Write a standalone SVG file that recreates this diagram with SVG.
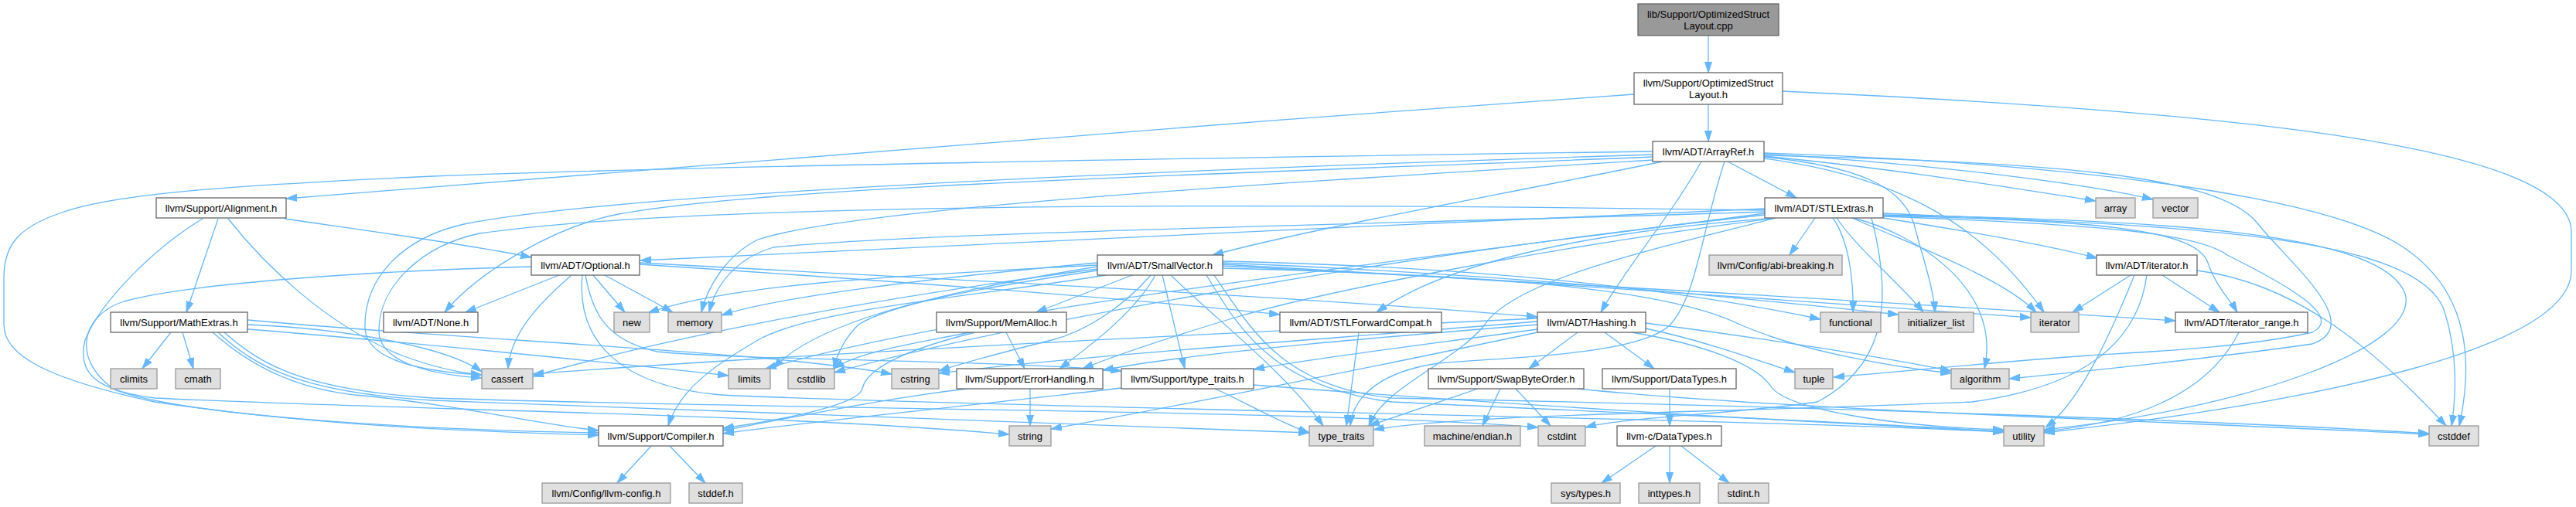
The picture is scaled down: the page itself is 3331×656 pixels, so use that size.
<svg xmlns="http://www.w3.org/2000/svg" width="3331" height="656" viewBox="0 0 3331 656">
<style>
.n rect{fill:#ffffff;stroke:#666666;stroke-width:1.3}
.x rect{fill:#e0e0e0;stroke:#999999;stroke-width:1.3}
.r rect{fill:#999999;stroke:#666666;stroke-width:1.3}
text{font-family:"Liberation Sans",Arial,Helvetica,sans-serif;font-size:13px;text-anchor:middle;fill:#000000}
#edges path{fill:none;stroke:#63b8ff;stroke-width:1.3;marker-end:url(#ah)}
</style>
<defs>
<marker id="ah" viewBox="0 0 14 10" markerWidth="14" markerHeight="10" refX="14" refY="5" orient="auto" markerUnits="userSpaceOnUse"><path d="M0,0.5 L14,5 L0,9.5 z" fill="#63b8ff" stroke="#63b8ff" stroke-width="1"/></marker>
</defs>
<rect x="0" y="0" width="3331" height="656" fill="#ffffff"/>
<g id="edges">
<path d="M2209,46 L2209,94"/>
<path d="M2209,135 L2209,183"/>
<path d="M2113,122 C1500,165 800,220 370,257"/>
<path d="M2305,118 C2900,145 3325,190 3325,300 L3325,350 C3325,450 3000,520 2643,560"/>
<path d="M2234,209 L2323,256"/>
<path d="M2281,202 C2450,218 2600,243 2710,260"/>
<path d="M2281,199 C2500,212 2700,238 2784,258"/>
<path d="M2281,198 C2700,212 3000,255 3100,315 C3190,370 3200,460 3180,551"/>
<path d="M2137,196 C1500,205 900,215 560,228 C300,240 150,250 80,275 C20,295 5,320 5,360 L5,420 C5,460 60,490 200,520 C400,550 600,558 774,563"/>
<path d="M2150,209 C1900,260 1700,295 1568,330"/>
<path d="M2200,209 C2160,280 2100,350 2070,404"/>
<path d="M2137,203 C1600,225 1000,240 800,277 C720,292 620,350 575,404"/>
<path d="M2137,200 C1500,220 800,250 600,290 C520,308 470,360 472,425 C474,462 530,480 623,485"/>
<path d="M2281,201 C2650,210 2870,225 2920,290 C2960,340 3060,420 2990,445 C2850,465 2700,480 2598,490"/>
<path d="M2281,203 C2400,215 2460,240 2475,290 C2485,330 2500,370 2502,404"/>
<path d="M2281,205 C2470,230 2570,300 2643,404"/>
<path d="M2137,207 C1600,240 1100,270 980,310 C940,330 915,370 907,404"/>
<path d="M2230,209 C2200,300 2195,380 2160,420 C2120,460 1950,462 1860,470 C1790,480 1750,510 1746,551"/>
<path d="M2347,282 L2314,330"/>
<path d="M2370,282 C2390,310 2397,360 2396,404"/>
<path d="M2375,282 C2400,320 2460,370 2487,404"/>
<path d="M2395,282 C2480,320 2590,360 2633,404"/>
<path d="M2396,282 C2470,300 2590,370 2566,477"/>
<path d="M2435,282 C2550,300 2650,318 2712,334"/>
<path d="M2435,279 C2700,285 2840,295 2855,340 C2865,370 2885,390 2893,404"/>
<path d="M2282,270 C1800,290 1200,320 828,337"/>
<path d="M2296,282 C2050,300 1870,340 1780,404"/>
<path d="M2296,282 C2000,320 1700,380 1600,410 C1500,440 1430,465 1400,477"/>
<path d="M2282,272 C1600,262 900,262 620,302 C545,318 490,370 490,428 C490,465 545,484 623,489"/>
<path d="M2435,276 C2800,292 3120,300 3160,400 C3180,460 3175,520 3170,551"/>
<path d="M2420,282 C2445,380 2445,470 2350,520 C2250,535 2100,540 2050,553"/>
<path d="M2282,278 C1800,330 1300,420 1079,482"/>
<path d="M2282,276 C1800,340 1250,400 990,477"/>
<path d="M2282,274 C1800,290 1200,300 1000,320 C950,335 925,370 917,404"/>
<path d="M2435,280 C2700,290 2840,300 2880,330 C2960,370 3030,410 2990,430 C2900,450 2780,455 2700,460 C2560,470 2450,482 2371,488"/>
<path d="M2296,282 C2150,320 1960,360 1920,420 C1880,470 1790,500 1770,551"/>
<path d="M2435,278 C2800,285 3080,300 3110,380 C3130,450 2900,530 2643,556"/>
<path d="M1464,356 L1340,404"/>
<path d="M1488,356 C1450,400 1400,430 1360,440 C1300,455 1250,468 1214,480"/>
<path d="M1494,356 C1470,400 1420,440 1370,477"/>
<path d="M1503,356 L1532,477"/>
<path d="M1514,356 C1580,420 1660,480 1711,551"/>
<path d="M1430,356 C1250,385 1050,400 980,440 C930,470 880,500 864,551"/>
<path d="M1419,348 C1100,390 850,440 689,487"/>
<path d="M1570,356 C1620,430 1660,500 1800,515 C2300,525 2900,545 3141,561"/>
<path d="M1419,350 C1250,375 1150,395 1110,420 C1090,440 1082,460 1078,477"/>
<path d="M1581,338 C1900,345 2150,370 2354,413"/>
<path d="M1581,340 C1950,355 2250,385 2455,407"/>
<path d="M1581,342 C2000,365 2400,395 2626,411"/>
<path d="M1581,344 C2100,370 2500,395 2813,415"/>
<path d="M1419,345 C1200,380 1050,420 1000,477"/>
<path d="M1419,340 C1200,360 1000,385 933,408"/>
<path d="M1419,343 C1200,355 950,365 838,405"/>
<path d="M1560,356 C1600,420 1640,500 1800,520 C2100,535 2400,545 2591,559"/>
<path d="M1581,347 C1900,355 2150,370 2250,420 C2330,455 2450,475 2523,483"/>
<path d="M723,356 L602,404"/>
<path d="M739,356 C700,390 660,430 657,477"/>
<path d="M767,356 L808,404"/>
<path d="M782,356 L870,404"/>
<path d="M687,345 C500,350 250,365 160,390 C100,410 95,470 150,505 C250,540 550,556 774,560"/>
<path d="M827,340 C1200,360 1700,385 1988,410"/>
<path d="M827,342 C1100,360 1450,385 1655,407"/>
<path d="M757,356 C765,400 780,440 850,455 C950,466 1300,466 1450,480"/>
<path d="M753,356 C745,440 800,505 950,512 C1400,530 2200,540 2591,559"/>
<path d="M368,283 C450,295 600,315 687,333"/>
<path d="M282,283 L241,404"/>
<path d="M295,283 C340,340 420,420 520,460 C560,475 590,482 623,485"/>
<path d="M262,283 C200,320 130,390 110,440 C100,480 120,505 200,515 C500,530 1000,535 1305,562"/>
<path d="M221,430 L184,477"/>
<path d="M236,430 L250,477"/>
<path d="M275,430 C320,470 380,505 470,512 C600,525 700,550 774,557"/>
<path d="M320,420 C450,425 580,450 623,481"/>
<path d="M320,426 C500,440 800,470 942,486"/>
<path d="M320,414 C600,440 1000,455 1153,484"/>
<path d="M290,430 C340,475 400,505 560,515 C1000,530 1700,530 1989,553"/>
<path d="M282,430 C330,475 390,508 560,518 C1000,535 1450,548 1693,560"/>
<path d="M1301,430 L1325,477"/>
<path d="M1254,430 C1180,445 1110,455 1078,477"/>
<path d="M1261,430 C1160,455 1120,480 1115,503 C1110,525 1000,545 935,554"/>
<path d="M1332,503 L1332,551"/>
<path d="M1250,503 C1150,515 1050,535 935,557"/>
<path d="M1450,502 C1300,520 1050,545 935,561"/>
<path d="M1571,503 C1610,520 1650,545 1693,560"/>
<path d="M1621,498 C1900,520 2300,545 2591,558"/>
<path d="M842,577 L798,625"/>
<path d="M866,577 L912,625"/>
<path d="M1757,430 L1741,551"/>
<path d="M2755,356 L2680,404"/>
<path d="M2796,356 L2870,404"/>
<path d="M2841,350 C2960,365 3060,440 3163,551"/>
<path d="M2760,356 C2730,430 2690,520 2645,553"/>
<path d="M2776,356 C2765,440 2700,500 2550,520 C2200,535 1900,535 1776,556"/>
<path d="M2895,430 C2860,500 2780,545 2643,558"/>
<path d="M2075,430 L2139,477"/>
<path d="M2040,430 L1977,477"/>
<path d="M1988,420 C1800,435 1550,455 1426,479"/>
<path d="M1988,426 C1850,445 1700,463 1621,478"/>
<path d="M2128,418 C2300,440 2450,465 2523,480"/>
<path d="M1988,412 C1600,430 1000,460 689,484"/>
<path d="M1988,416 C1700,440 1400,460 1214,483"/>
<path d="M1988,430 C1800,470 1500,530 1359,555"/>
<path d="M2128,425 C2200,440 2270,465 2321,482"/>
<path d="M2110,430 C2200,445 2270,470 2290,500 C2310,530 2450,552 2591,556"/>
<path d="M1911,503 L1770,551"/>
<path d="M1940,503 L1917,551"/>
<path d="M1960,503 L2005,551"/>
<path d="M2040,503 C2300,530 2800,545 3141,562"/>
<path d="M2159,503 L2159,551"/>
<path d="M2141,577 L2071,625"/>
<path d="M2159,577 L2159,625"/>
<path d="M2174,577 L2236,625"/>
</g>
<g id="node-cpp" class="r"><rect x="2118" y="5" width="182" height="41"/><text x="2209" y="22.5">lib/Support/OptimizedStruct</text><text x="2209" y="37.5">Layout.cpp</text></g>
<g id="node-layout" class="n"><rect x="2113" y="94" width="192" height="41"/><text x="2209" y="111.5">llvm/Support/OptimizedStruct</text><text x="2209" y="126.5">Layout.h</text></g>
<g id="node-arrayref" class="n"><rect x="2137" y="183" width="144" height="26"/><text x="2209" y="200.5">llvm/ADT/ArrayRef.h</text></g>
<g id="node-alignment" class="n"><rect x="202" y="256" width="168" height="26"/><text x="286" y="273.5">llvm/Support/Alignment.h</text></g>
<g id="node-stlextras" class="n"><rect x="2282" y="256" width="153" height="26"/><text x="2358.5" y="273.5">llvm/ADT/STLExtras.h</text></g>
<g id="node-array" class="x"><rect x="2710" y="256" width="51" height="26"/><text x="2735.5" y="273.5">array</text></g>
<g id="node-vector" class="x"><rect x="2784" y="256" width="58" height="26"/><text x="2813" y="273.5">vector</text></g>
<g id="node-optional" class="n"><rect x="687" y="330" width="140" height="26"/><text x="757" y="347.5">llvm/ADT/Optional.h</text></g>
<g id="node-smallvector" class="n"><rect x="1419" y="330" width="162" height="26"/><text x="1500" y="347.5">llvm/ADT/SmallVector.h</text></g>
<g id="node-abi" class="x"><rect x="2210" y="330" width="172" height="26"/><text x="2296" y="347.5">llvm/Config/abi-breaking.h</text></g>
<g id="node-iteratorh" class="n"><rect x="2711" y="330" width="130" height="26"/><text x="2776" y="347.5">llvm/ADT/iterator.h</text></g>
<g id="node-mathextras" class="n"><rect x="143" y="404" width="177" height="26"/><text x="231.5" y="421.5">llvm/Support/MathExtras.h</text></g>
<g id="node-none" class="n"><rect x="496" y="404" width="122" height="26"/><text x="557" y="421.5">llvm/ADT/None.h</text></g>
<g id="node-new" class="x"><rect x="794" y="404" width="46" height="26"/><text x="817" y="421.5">new</text></g>
<g id="node-memory" class="x"><rect x="864" y="404" width="69" height="26"/><text x="898.5" y="421.5">memory</text></g>
<g id="node-memalloc" class="n"><rect x="1211" y="404" width="168" height="26"/><text x="1295" y="421.5">llvm/Support/MemAlloc.h</text></g>
<g id="node-stlforward" class="n"><rect x="1655" y="404" width="209" height="26"/><text x="1759.5" y="421.5">llvm/ADT/STLForwardCompat.h</text></g>
<g id="node-hashing" class="n"><rect x="1988" y="404" width="140" height="26"/><text x="2058" y="421.5">llvm/ADT/Hashing.h</text></g>
<g id="node-functional" class="x"><rect x="2354" y="404" width="78" height="26"/><text x="2393" y="421.5">functional</text></g>
<g id="node-initlist" class="x"><rect x="2455" y="404" width="97" height="26"/><text x="2503.5" y="421.5">initializer_list</text></g>
<g id="node-iterator" class="x"><rect x="2626" y="404" width="62" height="26"/><text x="2657" y="421.5">iterator</text></g>
<g id="node-iterrange" class="n"><rect x="2813" y="404" width="171" height="26"/><text x="2898.5" y="421.5">llvm/ADT/iterator_range.h</text></g>
<g id="node-climits" class="x"><rect x="143" y="477" width="60" height="26"/><text x="173" y="494.5">climits</text></g>
<g id="node-cmath" class="x"><rect x="227" y="477" width="58" height="26"/><text x="256" y="494.5">cmath</text></g>
<g id="node-cassert" class="x"><rect x="623" y="477" width="66" height="26"/><text x="656" y="494.5">cassert</text></g>
<g id="node-limits" class="x"><rect x="942" y="477" width="54" height="26"/><text x="969" y="494.5">limits</text></g>
<g id="node-cstdlib" class="x"><rect x="1019" y="477" width="60" height="26"/><text x="1049" y="494.5">cstdlib</text></g>
<g id="node-cstring" class="x"><rect x="1153" y="477" width="61" height="26"/><text x="1183.5" y="494.5">cstring</text></g>
<g id="node-errorhandling" class="n"><rect x="1237" y="477" width="189" height="26"/><text x="1331.5" y="494.5">llvm/Support/ErrorHandling.h</text></g>
<g id="node-typetraitsh" class="n"><rect x="1450" y="477" width="171" height="26"/><text x="1535.5" y="494.5">llvm/Support/type_traits.h</text></g>
<g id="node-swapbyteorder" class="n"><rect x="1847" y="477" width="201" height="26"/><text x="1947.5" y="494.5">llvm/Support/SwapByteOrder.h</text></g>
<g id="node-datatypes" class="n"><rect x="2072" y="477" width="173" height="26"/><text x="2158.5" y="494.5">llvm/Support/DataTypes.h</text></g>
<g id="node-tuple" class="x"><rect x="2321" y="477" width="49" height="26"/><text x="2345.5" y="494.5">tuple</text></g>
<g id="node-algorithm" class="x"><rect x="2523" y="477" width="75" height="26"/><text x="2560.5" y="494.5">algorithm</text></g>
<g id="node-compiler" class="n"><rect x="774" y="551" width="161" height="26"/><text x="854.5" y="568.5">llvm/Support/Compiler.h</text></g>
<g id="node-string" class="x"><rect x="1305" y="551" width="54" height="26"/><text x="1332" y="568.5">string</text></g>
<g id="node-type_traits" class="x"><rect x="1693" y="551" width="83" height="26"/><text x="1734.5" y="568.5">type_traits</text></g>
<g id="node-endian" class="x"><rect x="1842" y="551" width="124" height="26"/><text x="1904" y="568.5">machine/endian.h</text></g>
<g id="node-cstdint" class="x"><rect x="1989" y="551" width="61" height="26"/><text x="2019.5" y="568.5">cstdint</text></g>
<g id="node-cdatatypes" class="n"><rect x="2091" y="551" width="135" height="26"/><text x="2158.5" y="568.5">llvm-c/DataTypes.h</text></g>
<g id="node-utility" class="x"><rect x="2591" y="551" width="52" height="26"/><text x="2617" y="568.5">utility</text></g>
<g id="node-cstddef" class="x"><rect x="3141" y="551" width="64" height="26"/><text x="3173" y="568.5">cstddef</text></g>
<g id="node-llvmconfig" class="x"><rect x="701" y="625" width="166" height="26"/><text x="784" y="642.5">llvm/Config/llvm-config.h</text></g>
<g id="node-stddef" class="x"><rect x="891" y="625" width="69" height="26"/><text x="925.5" y="642.5">stddef.h</text></g>
<g id="node-systypes" class="x"><rect x="2006" y="625" width="89" height="26"/><text x="2050.5" y="642.5">sys/types.h</text></g>
<g id="node-inttypes" class="x"><rect x="2119" y="625" width="79" height="26"/><text x="2158.5" y="642.5">inttypes.h</text></g>
<g id="node-stdint" class="x"><rect x="2222" y="625" width="65" height="26"/><text x="2254.5" y="642.5">stdint.h</text></g>
</svg>
